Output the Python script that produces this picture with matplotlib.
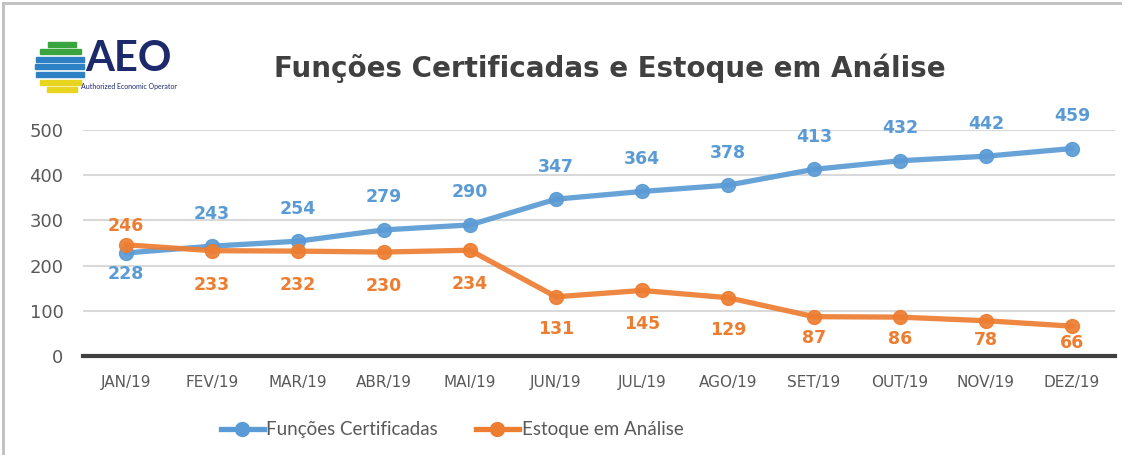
import matplotlib.pyplot as plt
from matplotlib.lines import Line2D
import numpy as np

months = ["JAN/19", "FEV/19", "MAR/19", "ABR/19", "MAI/19", "JUN/19",
          "JUL/19", "AGO/19", "SET/19", "OUT/19", "NOV/19", "DEZ/19"]
certificadas = [228, 243, 254, 279, 290, 347, 364, 378, 413, 432, 442, 459]
estoque = [246, 233, 232, 230, 234, 131, 145, 129, 87, 86, 78, 66]

blue = "#5B9BD5"
orange = "#ED7D31"
gray = "#595959"

fig = plt.figure(figsize=(11.3, 4.55), dpi=100)
ax = fig.add_axes([83 / 1130, 1 - 356 / 455, (1115 - 83) / 1130, (356 - 130) / 455])

x = list(range(len(months)))
ax.plot(x, certificadas, color=blue, lw=3.8, marker="o", ms=10,
        solid_capstyle="round", clip_on=False, zorder=3, alpha=0.92)
ax.plot(x, estoque, color=orange, lw=3.8, marker="o", ms=10,
        solid_capstyle="round", clip_on=False, zorder=4, alpha=0.92)

# data labels, Excel-style: above/below, first month swapped, bottom ones squeezed
for i, (c, e) in enumerate(zip(certificadas, estoque)):
    if i == 0:
        cy, ey = c - 46, e + 42
    else:
        cy, ey = c + 72, max(e - 75, e * 0.45)
    ax.text(i, cy, str(c), ha="center", va="center", color=blue,
            fontsize=12.5, fontweight="bold", clip_on=False)
    ax.text(i, ey, str(e), ha="center", va="center", color=orange,
            fontsize=12.5, fontweight="bold", clip_on=False, zorder=6)

ax.set_xlim(-0.5, len(months) - 0.5)
ax.set_ylim(0, 500)
ax.set_yticks(range(0, 501, 100))
ax.set_xticks(x)
ax.set_xticklabels(months)
ax.tick_params(axis="y", length=0, labelsize=13, labelcolor=gray, pad=14)
ax.tick_params(axis="x", length=0, labelsize=11, labelcolor=gray, pad=14)
ax.grid(axis="y", color="#d9d9d9", lw=1.5)
ax.set_axisbelow(True)
for s in ["top", "right", "left"]:
    ax.spines[s].set_visible(False)
ax.spines["bottom"].set_color("#404040")
ax.spines["bottom"].set_linewidth(3)
ax.spines["bottom"].set_zorder(5)

fig.text(0.54, 1 - 68 / 455, "Funções Certificadas e Estoque em Análise",
         ha="center", va="center", fontsize=20, fontweight="heavy", color="#404040")

handles = [Line2D([], [], color=blue, lw=3.8, marker="o", ms=10),
           Line2D([], [], color=orange, lw=3.8, marker="o", ms=10)]
fig.legend(handles, ["Funções Certificadas", "Estoque em Análise"],
           loc="center", bbox_to_anchor=(452 / 1130, 1 - 430 / 455), ncol=2,
           frameon=False, prop={"family": "Lato", "size": 13.5},
           labelcolor=gray, handlelength=2.3, handletextpad=0.15, columnspacing=2.0)

# simplified AEO logo
lcx, lcy, r = 62, 67, 27
stripe_cols = ["#3aa53f", "#3aa53f", "#2d80c4", "#2d80c4", "#2d80c4", "#e8d520", "#e8d520"]
for k, col in enumerate(stripe_cols):
    yy = 44 + k * 7.6
    half = np.sqrt(max(r ** 2 - (yy - lcy) ** 2, 30))
    x0 = lcx - half
    x1 = lcx + 0.6 * half + 6
    fig.add_artist(plt.Rectangle((x0 / 1130, 1 - (yy + 2.5) / 455), (x1 - x0) / 1130, 5 / 455,
                                 color=col, transform=fig.transFigure))
fig.text(128 / 1130, 1 - 59 / 455, "AEO", ha="center", va="center",
         fontsize=30, fontweight="bold", color="#1c2a6b", family="Lato")
fig.text(129 / 1130, 1 - 86 / 455, "Authorized Economic Operator", ha="center",
         va="center", fontsize=5, color="#1c2a6b", family="Lato")

# frame border
fig.add_artist(Line2D([3 / 1130, 3 / 1130], [0, 1 - 3 / 455], color="#bfbfbf", lw=2))
fig.add_artist(Line2D([3 / 1130, 1120 / 1130], [1 - 3 / 455, 1 - 3 / 455], color="#bfbfbf", lw=2))

fig.savefig("out.png", dpi=100)
